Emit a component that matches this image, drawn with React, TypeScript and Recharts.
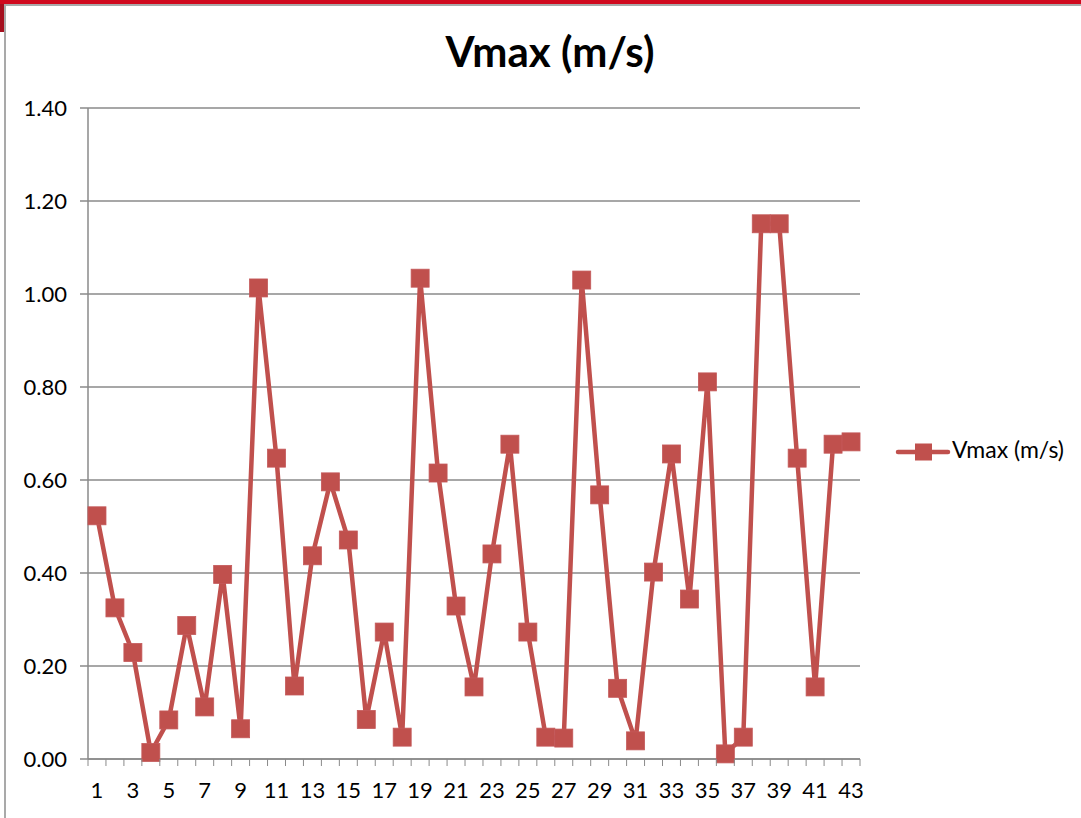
import { CartesianGrid, Legend, Line, LineChart, XAxis, YAxis } from "recharts";

const categories = [
  1, 2, 3, 4, 5, 6, 7, 8, 9, 10, 11, 12, 13, 14, 15, 16, 17, 18, 19, 20, 21, 22,
  23, 24, 25, 26, 27, 28, 29, 30, 31, 32, 33, 34, 35, 36, 37, 38, 39, 40, 41, 42, 43,
];

const vmax = [
  0.523, 0.325, 0.229, 0.014, 0.084, 0.287, 0.112, 0.397, 0.065, 1.013, 0.647,
  0.157, 0.437, 0.596, 0.471, 0.085, 0.273, 0.047, 1.034, 0.615, 0.329, 0.155,
  0.441, 0.677, 0.273, 0.047, 0.045, 1.03, 0.568, 0.152, 0.039, 0.402, 0.656,
  0.344, 0.811, 0.011, 0.047, 1.151, 1.151, 0.647, 0.155, 0.677, 0.682,
];

const yTicks = [0, 0.2, 0.4, 0.6, 0.8, 1.0, 1.2, 1.4];
const labelledCategories = [1, 3, 5, 7, 9, 11, 13, 15, 17, 19, 21, 23, 25, 27, 29, 31, 33, 35, 37, 39, 41, 43];

const SERIES = "Vmax (m/s)";
const RED = "#c0504d";
const GREY = "#8a8a8a";
const FONT = "Lato, 'Open Sans', sans-serif";

const data = categories.map((c, i) => ({ x: c, v: vmax[i] }));

// tick marks sit on the category boundaries, labels on every other category
const boundaries = categories.map((c) => c - 0.5).concat(categories[categories.length - 1] + 0.5);
const xTicks = [...boundaries, ...labelledCategories].sort((a, b) => a - b);

function XTick(props: any) {
  const { x, y, payload } = props;
  const val = payload.value as number;
  if (!Number.isInteger(val)) {
    return <line x1={x} x2={x} y1={y} y2={y + 7} stroke={GREY} strokeWidth={1} />;
  }
  return (
    <text x={x} y={y + 39} textAnchor="middle" fontSize={22} fontFamily={FONT} fill="#000">
      {val}
    </text>
  );
}

function SquareDot(props: any) {
  const { cx, cy } = props;
  if (cx == null || cy == null) return null;
  return <rect x={cx - 9} y={cy - 9} width={18} height={18} fill={RED} stroke="#c4595a" strokeWidth={0.8} />;
}

function LegendBox() {
  return (
    <svg width={190} height={32}>
      <line x1={9} x2={59} y1={16} y2={16} stroke={RED} strokeWidth={4.5} strokeLinecap="round" />
      <rect x={26} y={7.5} width={17} height={17} fill={RED} />
      <text x={63} y={22} fontSize={23} fontFamily={FONT} fill="#000">
        {SERIES}
      </text>
    </svg>
  );
}

export default function App() {
  return (
    <div style={{ position: "absolute", left: 0, top: 0, width: 1081, height: 818, background: "#fff", overflow: "hidden" }}>
      <div style={{ position: "absolute", left: 0, top: 0, width: 1081, height: 4, background: "#d0091e" }} />
      <div style={{ position: "absolute", left: 4, top: 4, width: 1077, height: 2, background: "#a9a9a9" }} />
      <div style={{ position: "absolute", left: 0, top: 4, width: 4, height: 28, background: "#a50f1e" }} />
      <div style={{ position: "absolute", left: 4, top: 4, width: 2, height: 814, background: "#a9a9a9" }} />
      <div
        style={{
          position: "absolute",
          left: 0,
          top: 27,
          width: 1100,
          textAlign: "center",
          fontFamily: FONT,
          fontWeight: 700,
          fontSize: 42,
          lineHeight: "48px",
          color: "#000",
        }}
      >
        {SERIES}
      </div>
      <div style={{ position: "absolute", left: 0, top: 0 }}>
        <LineChart width={1081} height={818} data={data} margin={{ top: 108, right: 221, bottom: 19, left: 0 }}>
          <CartesianGrid vertical={false} stroke={GREY} strokeWidth={1.5} />
          <XAxis
            dataKey="x"
            type="number"
            domain={[0.5, 43.5]}
            ticks={xTicks}
            interval={0}
            tick={<XTick />}
            tickLine={false}
            tickSize={0}
            tickMargin={0}
            height={40}
            axisLine={{ stroke: GREY, strokeWidth: 1.5 }}
          />
          <YAxis
            type="number"
            domain={[0, 1.4]}
            ticks={yTicks}
            interval={0}
            width={88}
            tickSize={8}
            tickMargin={13}
            tickFormatter={(v: number) => v.toFixed(2)}
            tick={{ fontSize: 22, fontFamily: FONT, fill: "#000" }}
            tickLine={{ stroke: GREY, strokeWidth: 1.5 }}
            axisLine={{ stroke: GREY, strokeWidth: 1.5 }}
          />
          <Legend
            layout="horizontal"
            align="center"
            verticalAlign="middle"
            content={<LegendBox />}
            wrapperStyle={{ left: 889, top: 436, width: 190, height: 32 }}
          />
          <Line
            dataKey="v"
            name={SERIES}
            stroke={RED}
            strokeWidth={4.5}
            strokeLinejoin="round"
            dot={<SquareDot />}
            activeDot={false}
            isAnimationActive={false}
          />
        </LineChart>
      </div>
    </div>
  );
}
